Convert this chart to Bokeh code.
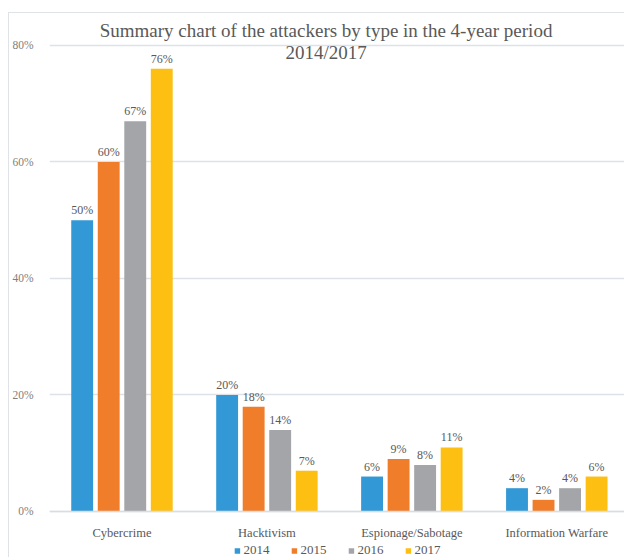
import numpy as np
from bokeh.plotting import figure
from bokeh.models import ColumnDataSource, Range1d, FixedTicker, Legend, LegendItem
from bokeh.core.properties import value
from bokeh.embed import file_html
from bokeh.resources import INLINE

# Chart content
title_lines = ["Summary chart of the attackers by type in the 4-year period", "2014/2017"]
categories = ["Cybercrime", "Hacktivism", "Espionage/Sabotage", "Information Warfare"]
years = ["2014", "2015", "2016", "2017"]
values_2014 = [50, 20, 6, 4]
values_2015 = [60, 18, 9, 2]
values_2016 = [67, 14, 8, 4]
values_2017 = [76, 7, 11, 6]
y_ticks = [0, 20, 40, 60, 80]
y_tick_labels = ["0%", "20%", "40%", "60%", "80%"]

series = [values_2014, values_2015, values_2016, values_2017]
colors = ["#3399d6", "#f07d2a", "#a3a5a8", "#fcbf12"]

SERIF = "Liberation Serif"
TEXT_DARK = "#595959"

# The plot area reaches the bottom of the canvas; the category axis sits at 0
p = figure(
    width=616, height=545,
    x_range=Range1d(0, 3.974), y_range=Range1d(-8.07, 85.49),
    output_backend="svg", toolbar_location=None,
    min_border_left=37, min_border_right=0, min_border_top=0, min_border_bottom=0,
)
p.outline_line_color = None
p.background_fill_color = "white"
p.border_fill_color = "white"
p.margin = (12, 0, 0, 8)
p.styles = {"border-left": "1px solid #dfe3e8", "border-top": "1px solid #dfe3e8"}

# Grouped bars: four years per category
centers = np.arange(len(categories)) + 0.5
step = 0.183
bar_w = 0.151
renderers = []
for i, (vals, col) in enumerate(zip(series, colors)):
    xs = centers + (i - 1.5) * step
    src = ColumnDataSource(dict(x=xs, top=vals, lbl=[f"{v}%" for v in vals]))
    r = p.vbar(x="x", top="top", width=bar_w, source=src, fill_color=col, line_color=None)
    renderers.append(r)
    p.text(x="x", y="top", text="lbl", source=src, text_align="center",
           text_baseline="alphabetic", y_offset=-10,
           text_font=value(SERIF), text_font_size="12px", text_color=TEXT_DARK)

# Title, drawn in two centred lines
p.text(x=[1.908, 1.908], y=[82.58, 78.8], text=title_lines, text_align="center",
       text_baseline="alphabetic", text_font=value(SERIF), text_font_size="19px",
       text_color=TEXT_DARK)

# Axes
p.yaxis.ticker = FixedTicker(ticks=y_ticks)
p.yaxis.major_label_overrides = {t: l for t, l in zip(y_ticks, y_tick_labels)}
p.yaxis.axis_line_color = None
p.yaxis.major_tick_line_color = None
p.yaxis.minor_tick_line_color = None
p.yaxis.major_label_standoff = 10
p.yaxis.major_label_text_font = SERIF
p.yaxis.major_label_text_font_size = "11.5px"
p.yaxis.major_label_text_color = "#808080"

p.xaxis.fixed_location = 0
p.xaxis.ticker = FixedTicker(ticks=[float(c) for c in centers])
p.xaxis.major_label_overrides = {float(c): n for c, n in zip(centers, categories)}
p.xaxis.axis_line_color = "#d9dde2"
p.xaxis.axis_line_width = 1.5
p.xaxis.major_tick_line_color = None
p.xaxis.minor_tick_line_color = None
p.xaxis.major_label_standoff = 9
p.xaxis.major_label_text_font = SERIF
p.xaxis.major_label_text_font_size = "12.5px"
p.xaxis.major_label_text_color = TEXT_DARK

p.xgrid.visible = False
p.ygrid.grid_line_color = "#dde2e8"
p.ygrid.grid_line_width = 1.5

legend = Legend(
    items=[LegendItem(label=y, renderers=[r]) for y, r in zip(years, renderers)],
    orientation="horizontal", location="bottom_center",
    glyph_width=7, glyph_height=7, label_standoff=3, spacing=21, label_height=12,
    padding=0, margin=0, border_line_color=None, background_fill_alpha=0,
    label_text_font=SERIF, label_text_font_size="13px", label_text_color=TEXT_DARK,
)
p.add_layout(legend, "center")

open("out.html", "w").write(file_html(p, INLINE))
